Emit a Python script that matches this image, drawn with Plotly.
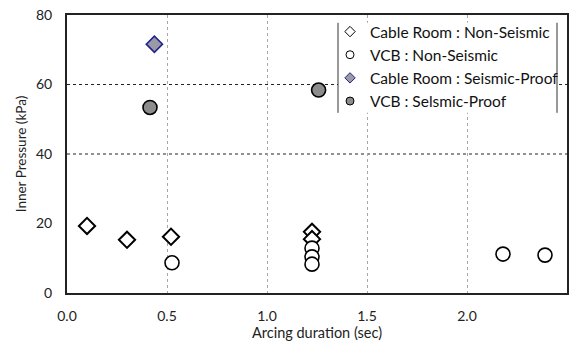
import plotly.graph_objects as go

# Arcing duration (sec) and inner pressure (kPa) per test group
cable_non_x = [0.10, 0.30, 0.52, 1.225, 1.225]
cable_non_y = [19.3, 15.3, 16.2, 17.6, 15.5]

vcb_non_x = [0.525, 1.225, 1.225, 1.225, 2.18, 2.39]
vcb_non_y = [8.7, 12.9, 10.4, 8.3, 11.2, 10.9]

cable_seis_x = [0.437]
cable_seis_y = [71.6]

vcb_seis_x = [0.415, 1.258]
vcb_seis_y = [53.4, 58.4]

x_ticks = [0.0, 0.5, 1.0, 1.5, 2.0, 2.5]
y_ticks = [0, 20, 40, 60, 80]
h_grid = [40, 60]

names = [
    "Cable Room : Non-Seismic",
    "VCB : Non-Seismic",
    "Cable Room : Seismic-Proof",
    "VCB : Selsmic-Proof",
]

styles = [
    dict(symbol="diamond", color="white", line=dict(color="black", width=2)),
    dict(symbol="circle", color="white", line=dict(color="black", width=1.6)),
    dict(symbol="diamond", color="#9a9aa6", line=dict(color="#23238c", width=1.6)),
    dict(symbol="circle", color="#8c8c8c", line=dict(color="black", width=1.6)),
]
sizes = [12.5, 14, 12.5, 14]
series = [
    (cable_non_x, cable_non_y),
    (vcb_non_x, vcb_non_y),
    (cable_seis_x, cable_seis_y),
    (vcb_seis_x, vcb_seis_y),
]

fig = go.Figure()

for (xs, ys), st, sz, nm in zip(series, styles, sizes, names):
    fig.add_trace(go.Scatter(
        x=xs, y=ys, mode="markers", showlegend=False, name=nm,
        marker=dict(size=sz, **st),
    ))

# small legend symbols
for st, nm in zip(styles, names):
    leg = dict(st)
    leg["line"] = dict(color=st["line"]["color"], width=1)
    fig.add_trace(go.Scatter(
        x=[None], y=[None], mode="markers", name=nm,
        marker=dict(size=8, **leg),
    ))

for yv in h_grid:
    fig.add_shape(type="line", xref="paper", yref="y", x0=0, x1=1, y0=yv, y1=yv,
                  line=dict(color="#222222", width=1, dash="dot"), layer="below")

fig.update_layout(
    width=575, height=341,
    margin=dict(l=67, r=8, t=15, b=48, autoexpand=False),
    paper_bgcolor="white", plot_bgcolor="white",
    font=dict(family="Lato, 'Open Sans', sans-serif", size=14, color="#222222"),
    showlegend=True,
    legend=dict(
        x=0.526, y=1.0, xanchor="left", yanchor="top",
        bgcolor="rgba(255,255,255,0)", borderwidth=0,
        font=dict(size=15.5, color="#111111"),
        itemwidth=30, tracegroupgap=0,
    ),
    xaxis=dict(
        range=[0, 2.5], tickvals=x_ticks, ticktext=[f"{v:.1f}" for v in x_ticks],
        showgrid=True, gridcolor="#a8a8a8", griddash="dot", gridwidth=1,
        zeroline=False, showline=True, linecolor="#222222", linewidth=2, mirror=True,
        ticks="", ticklabelstandoff=9, automargin=False,
        title=dict(text="Arcing duration (sec)", font=dict(size=14.5), standoff=9),
    ),
    yaxis=dict(
        range=[0, 80], tickvals=y_ticks,
        showgrid=False, zeroline=False,
        showline=True, linecolor="#222222", linewidth=2, mirror=True,
        ticks="", ticklabelstandoff=10, automargin=False,
        title=dict(text="Inner Pressure (kPa)", font=dict(size=13.5), standoff=6),
    ),
)

# white panel behind the legend, with rules on its sides
fig.add_shape(type="rect", xref="paper", yref="paper", x0=0.542, x1=0.98, y0=0.648, y1=0.972,
              line=dict(width=0), fillcolor="white", layer="above")
for xp in (0.542, 0.98):
    fig.add_shape(type="line", xref="paper", yref="paper", x0=xp, x1=xp, y0=0.648, y1=0.972,
                  line=dict(color="#333333", width=1), layer="above")

fig.write_html("out.html")
